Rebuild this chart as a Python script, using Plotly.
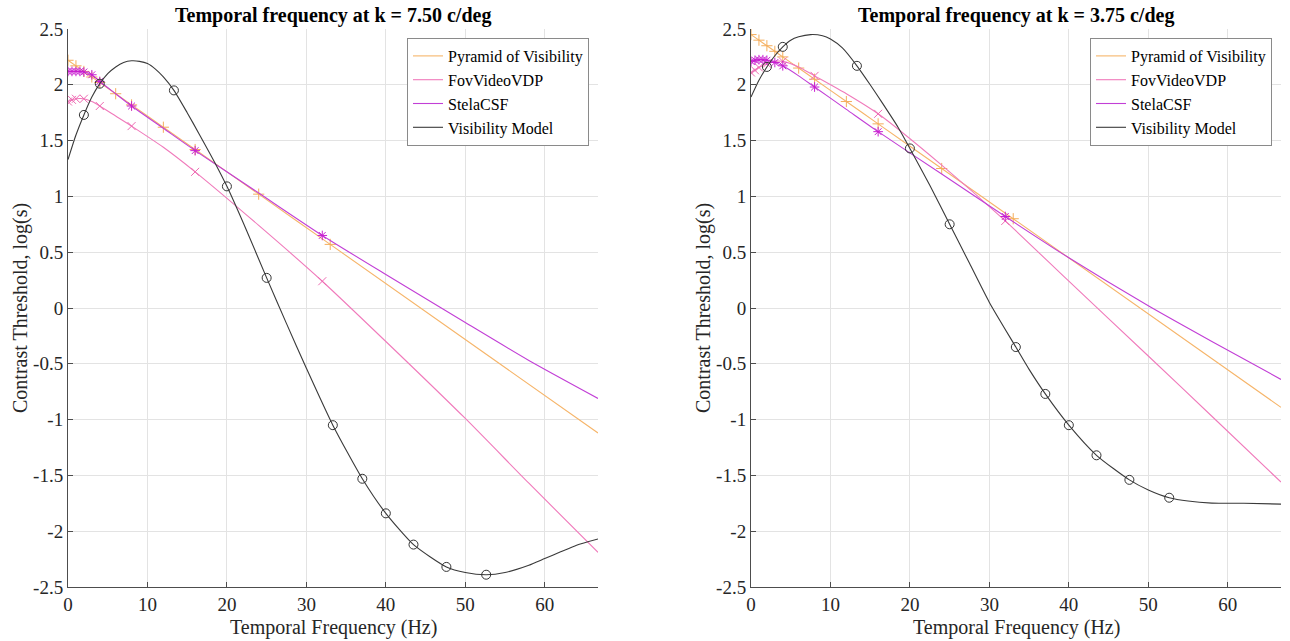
import plotly.graph_objects as go

# ---------------- data ----------------
x_max = 66.7
y_tick_vals = [2.5, 2, 1.5, 1, 0.5, 0, -0.5, -1, -1.5, -2, -2.5]
y_tick_text = ["2.5", "2", "1.5", "1", "0.5", "0", "-0.5", "-1", "-1.5", "-2", "-2.5"]
x_tick_vals = [0, 10, 20, 30, 40, 50, 60]
x_tick_text = ["0", "10", "20", "30", "40", "50", "60"]

titles = ["Temporal frequency at k = 7.50 c/deg", "Temporal frequency at k = 3.75 c/deg"]
series_names = ["Pyramid of Visibility", "FovVideoVDP", "StelaCSF", "Visibility Model"]

# Pyramid of Visibility
pov_f = [0, 1, 2, 3, 4, 6, 8, 12, 16, 24, 33, 66.7]
pov_left = [2.22, 2.17, 2.12, 2.07, 2.02, 1.92, 1.82, 1.62, 1.42, 1.02, 0.57, -1.12]
pov_right = [2.45, 2.40, 2.35, 2.30, 2.25, 2.15, 2.05, 1.85, 1.65, 1.25, 0.80, -0.89]
pov_mk = [0, 1, 2, 3, 4, 6, 8, 12, 16, 24, 33]

# FovVideoVDP
fov_f = [0, 0.5, 1, 2, 3, 4, 6, 8, 12, 16, 24, 32, 40, 50, 58, 66.7]
fov_left = [1.85, 1.865, 1.875, 1.875, 1.85, 1.81, 1.72, 1.63, 1.44, 1.22, 0.74, 0.24, -0.30, -0.99, -1.57, -2.19]
fov_right = [2.11, 2.13, 2.155, 2.19, 2.21, 2.21, 2.16, 2.08, 1.92, 1.74, 1.28, 0.78, 0.24, -0.43, -0.97, -1.56]
fov_mk = [0, 0.5, 1, 2, 4, 8, 16, 32]

# StelaCSF
stela_f = [0, 0.5, 1, 1.5, 2, 3, 4, 6, 8, 12, 16, 24, 32, 40, 50, 58, 66.7]
stela_left = [2.12, 2.12, 2.12, 2.12, 2.115, 2.09, 2.03, 1.92, 1.81, 1.61, 1.41, 1.03, 0.65, 0.30, -0.13, -0.47, -0.81]
stela_right = [2.21, 2.22, 2.225, 2.225, 2.22, 2.20, 2.17, 2.08, 1.98, 1.78, 1.58, 1.20, 0.82, 0.45, 0.02, -0.30, -0.64]
stela_mk = [0, 0.5, 1, 1.5, 2, 3, 4, 8, 16, 32]

# Visibility Model
vis_f_left = [0, 1, 2, 3, 4, 5, 6, 7, 8, 9, 10, 11, 12, 13.33, 15, 16.5, 18.5, 20, 22.5, 25,
              27.5, 30, 33.33, 37.04, 40, 43.48, 47.62, 50, 52.63, 55, 58, 60, 62, 64, 66.7]
vis_left = [1.33, 1.55, 1.73, 1.89, 2.01, 2.10, 2.16, 2.20, 2.215, 2.21, 2.19, 2.14, 2.07, 1.95,
            1.75, 1.56, 1.30, 1.09, 0.69, 0.27, -0.14, -0.54, -1.05, -1.53, -1.84, -2.12, -2.32,
            -2.37, -2.39, -2.37, -2.305, -2.245, -2.185, -2.125, -2.07]
vis_f_right = [0, 1, 2, 3, 4, 5, 6, 7.5, 9, 10, 11.5, 13.33, 15, 16.5, 18.5, 20, 22.5, 25, 27.5,
               30, 33.33, 35, 37.04, 40, 43.48, 47.62, 50, 52.63, 55, 58, 62, 66.7]
vis_right = [1.89, 2.04, 2.16, 2.26, 2.34, 2.40, 2.43, 2.45, 2.44, 2.41, 2.33, 2.17, 2.00, 1.84,
             1.62, 1.43, 1.10, 0.75, 0.40, 0.05, -0.35, -0.55, -0.77, -1.05, -1.32, -1.54, -1.63,
             -1.70, -1.73, -1.748, -1.75, -1.757]
vis_mk = [2, 4, 13.33, 20, 25, 33.33, 37.04, 40, 43.48, 47.62, 52.63]

colors = ["#F6B56A", "#F07ABB", "#C23FD6", "#3a3a3a"]
marker_colors = ["#F4AD5C", "#EE6AB2", "#C81ED0", "#333333"]
symbols = ["cross-thin-open", "x-thin-open", "asterisk-open", "circle-open"]
marker_sizes = [8, 8, 8, 9]

FONT = "Liberation Serif, Times New Roman, serif"
W, H = 1290, 641

# pixel layout
panels = [
    dict(x0=68, x1=598, leg_right=589, ylab_x=20),
    dict(x0=751, x1=1281, leg_right=1272, ylab_x=703),
]
y_top, y_bot = 29, 587

fig = go.Figure()

data_sets = [
    [(pov_f, pov_left, pov_mk), (fov_f, fov_left, fov_mk), (stela_f, stela_left, stela_mk),
     (vis_f_left, vis_left, vis_mk)],
    [(pov_f, pov_right, pov_mk), (fov_f, fov_right, fov_mk), (stela_f, stela_right, stela_mk),
     (vis_f_right, vis_right, vis_mk)],
]

annotations = []
for p, (panel, sets) in enumerate(zip(panels, data_sets)):
    xa = "x" if p == 0 else "x2"
    ya = "y" if p == 0 else "y2"
    leg = "legend" if p == 0 else "legend2"
    for s, (f, v, mk) in enumerate(sets):
        fig.add_trace(go.Scatter(
            x=f, y=v, mode="lines", name=series_names[s],
            line=dict(color=colors[s], width=1.1, shape="spline", smoothing=0.6),
            xaxis=xa, yaxis=ya, legend=leg, showlegend=True, hoverinfo="skip"))
        mx = [fx for fx in f if fx in mk]
        my = [fv for fx, fv in zip(f, v) if fx in mk]
        fig.add_trace(go.Scatter(
            x=mx, y=my, mode="markers", showlegend=False,
            marker=dict(symbol=symbols[s], size=marker_sizes[s], color=marker_colors[s],
                        line=dict(color=marker_colors[s], width=1)),
            xaxis=xa, yaxis=ya, hoverinfo="skip"))

    cx = (panel["x0"] + panel["x1"]) / 2
    annotations.append(dict(text=titles[p], x=cx / W, y=1 - 15 / H, xref="paper", yref="paper",
                            xanchor="center", yanchor="middle", showarrow=False,
                            font=dict(family=FONT, size=20, color="#000000", weight="bold")))
    annotations.append(dict(text="Temporal Frequency (Hz)", x=cx / W, y=1 - 627 / H,
                            xref="paper", yref="paper", xanchor="center", yanchor="middle",
                            showarrow=False, font=dict(family=FONT, size=20, color="#262626")))
    annotations.append(dict(text="Contrast Threshold, log(s)", x=panel["ylab_x"] / W,
                            y=1 - ((y_top + y_bot) / 2) / H, xref="paper", yref="paper",
                            xanchor="center", yanchor="middle", textangle=-90, showarrow=False,
                            font=dict(family=FONT, size=20, color="#262626")))

axis_common = dict(showgrid=True, gridcolor="#e3e3e3", gridwidth=1, zeroline=False,
                   showline=True, linecolor="#4d4d4d", linewidth=1, ticks="inside",
                   ticklen=5, tickcolor="#4d4d4d", mirror=False, automargin=False,
                   tickfont=dict(family=FONT, size=19, color="#262626"))

layout = dict(
    width=W, height=H, margin=dict(l=0, r=0, t=0, b=0, pad=0, autoexpand=False),
    paper_bgcolor="white", plot_bgcolor="white",
    annotations=annotations, showlegend=True,
)
for p, panel in enumerate(panels):
    sx = "" if p == 0 else "2"
    layout["xaxis" + sx] = dict(domain=[panel["x0"] / W, panel["x1"] / W], range=[0, x_max],
                                tickvals=x_tick_vals, ticktext=x_tick_text,
                                anchor="y" + sx, **axis_common)
    layout["yaxis" + sx] = dict(domain=[1 - y_bot / H, 1 - y_top / H], range=[-2.5, 2.5],
                                tickvals=y_tick_vals, ticktext=y_tick_text,
                                anchor="x" + sx, **axis_common)
    legend_key = "legend" if p == 0 else "legend2"
    layout[legend_key] = dict(x=panel["leg_right"] / W, y=1 - 38 / H, xanchor="right",
                              yanchor="top", bgcolor="white", bordercolor="#8a8a8a",
                              borderwidth=1, font=dict(family=FONT, size=16, color="#000000"),
                              itemwidth=30, tracegroupgap=0)

fig.update_layout(**layout)
fig.write_html("out.html")
